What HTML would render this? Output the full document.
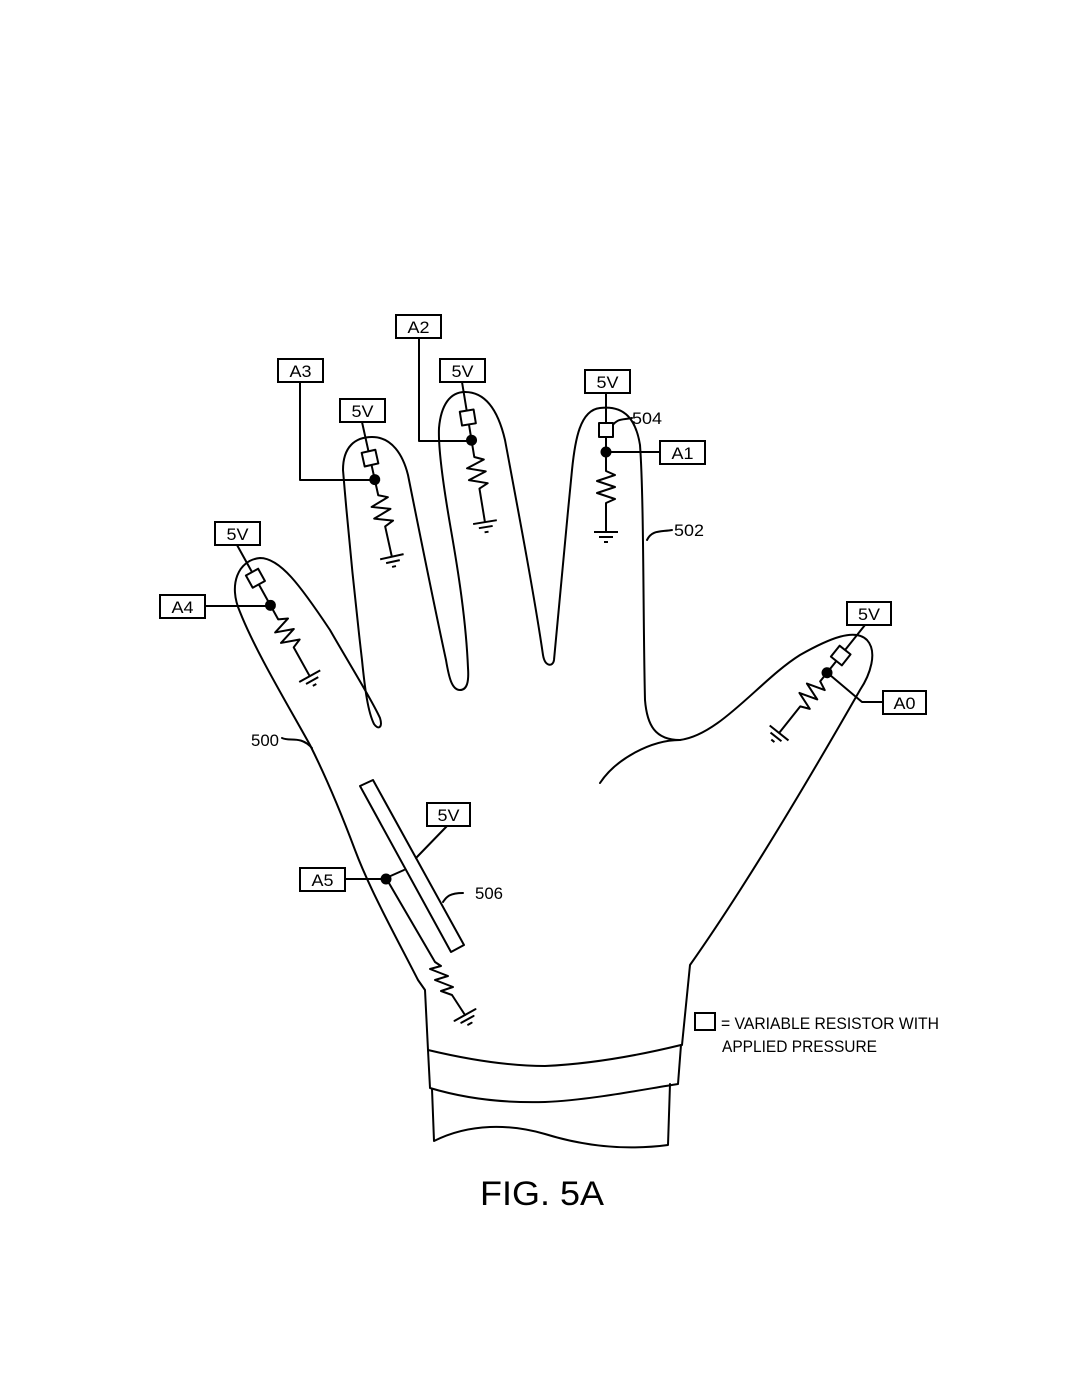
<!DOCTYPE html>
<html><head><meta charset="utf-8"><style>
html,body{margin:0;padding:0;background:#fff}
svg{display:block}
text{font-family:"Liberation Sans",sans-serif;fill:#000}
</style></head><body>
<svg width="1080" height="1398" viewBox="0 0 1080 1398" xmlns="http://www.w3.org/2000/svg">
<g fill="none" stroke="#000" stroke-width="2" stroke-linejoin="round" stroke-linecap="round">
<!-- hand outline -->
<path d="M428,1050 L425,990 L418,980 C395,935 370,890 355,850 C340,810 325,775 310,745 C285,700 255,650 240,612 C228,585 238,560 260,558 C280,558 300,585 330,630 C350,665 372,700 380,718 C383,728 378,730 374,724 C368,712 365,690 362,660 C355,600 348,530 343,470 C343,447 355,437 372,437 C392,437 403,455 408,475 C418,525 433,600 446,660 C449,678 452,690 460,690 C467,690 469,682 468,668 C466,620 458,570 451,530 C444,490 438,450 439,428 C441,405 450,392 465,392 C485,392 498,410 505,440 C520,520 535,600 543,655 C545,667 553,667 554,660 C558,620 565,540 572,470 C575,440 580,410 600,408 C625,405 636,420 640,445 C644,500 643,620 645,700 C647,725 655,740 680,740 C720,735 760,680 800,655 C830,638 855,628 867,640 C878,652 870,675 860,690 C820,760 750,880 690,965 L682,1045"/>
<!-- palm crease -->
<path d="M680,740 C650,740 615,760 600,783"/>
<!-- cuff -->
<path d="M428,1050 C470,1060 510,1066 545,1066 C590,1064 640,1055 681,1045"/>
<path d="M428,1050 L430,1088 C470,1100 510,1103 545,1102 C590,1100 640,1090 678,1084 L681,1045"/>
<path d="M432,1089 L434,1141 C470,1123 510,1124 545,1134 C590,1148 630,1150 668,1145 L670,1084"/>
<!-- forearm strip -->
<path d="M360,786 L373,780 L464,945 L451,952 Z"/>
<path d="M386,878 L404,870"/>
<path d="M447,826 L416,858"/>
<path d="M300,879 L386,879"/>
<path d="M386,878 L435,962 L441,966 L430,969 L448,976 L435,980 L453,987 L441,991 L452,995 L465,1015"/>
<g transform="translate(465,1015) rotate(-29)"><path d="M-12,0 L12,0 M-7,5 L7,5 M-2,10 L2,10"/></g>
<!-- leaders -->
<path d="M312,748 C300,735 290,742 282,738"/>
<path d="M647,540 C652,530 660,532 672,530"/>
<path d="M612,426 C618,418 622,420 632,418"/>
<path d="M463,893 C448,893 446,898 443,902"/>
<path d="M300,382 L300,480 L375,480"/>
<path d="M419,338 L419,441 L470,441"/>
<path d="M605,452 L660,452"/>
<path d="M205,606 L270,606"/>
<path d="M830,675 L862,702 L883,702"/>
</g>
<g fill="none" stroke="#000" stroke-width="2" stroke-linejoin="round">
<!-- pinky -->
<g transform="translate(237,545) rotate(-29)">
<path d="M0,0 L0,31 M0,45 L0,85 L9,89 L-9,95 L9,101 L-9,107 L9,113 L0,117 L0,150 M-12,150 L12,150 M-7,155 L7,155 M-2,160 L2,160"/>
<rect x="-7" y="31" width="14" height="14" fill="#fff"/>
<circle cx="0" cy="69" r="4.5" fill="#000"/>
</g>
<!-- ring -->
<g transform="translate(362,422) rotate(-12.5)">
<path d="M0,0 L0,30 M0,44 L0,75 L9,79 L-9,85 L9,91 L-9,97 L9,103 L0,107 L0,138 M-12,138 L12,138 M-7,143 L7,143 M-2,148 L2,148"/>
<rect x="-7" y="30" width="14" height="14" fill="#fff"/>
<circle cx="0" cy="59" r="4.5" fill="#000"/>
</g>
<!-- middle -->
<g transform="translate(462,382) rotate(-9.3)">
<path d="M0,0 L0,29 M0,43 L0,76 L9,80 L-9,86 L9,92 L-9,98 L9,104 L0,108 L0,142 M-12,142 L12,142 M-7,147 L7,147 M-2,152 L2,152"/>
<rect x="-7" y="29" width="14" height="14" fill="#fff"/>
<circle cx="0" cy="59" r="4.5" fill="#000"/>
</g>
<!-- index -->
<g transform="translate(606,393)">
<path d="M0,0 L0,30 M0,44 L0,78 L9,82 L-9,88 L9,94 L-9,100 L9,106 L0,110 L0,139 M-12,139 L12,139 M-7,144 L7,144 M-2,149 L2,149"/>
<rect x="-7" y="30" width="14" height="14" fill="#fff"/>
<circle cx="0" cy="59" r="4.5" fill="#000"/>
</g>
<!-- thumb -->
<g transform="translate(865,625) rotate(38.5)">
<path d="M0,0 L0,32 M0,46 L0,72 L9,76 L-9,82 L9,88 L-9,94 L9,100 L0,104 L0,138 M-12,138 L12,138 M-7,143 L7,143 M-2,148 L2,148"/>
<rect x="-7" y="32" width="14" height="14" fill="#fff"/>
<circle cx="0" cy="61" r="4.5" fill="#000"/>
</g>
<circle cx="386" cy="879" r="4.5" fill="#000"/>
</g>
<!-- boxes -->
<g fill="#fff" stroke="#000" stroke-width="2">
<rect x="215" y="522" width="45" height="23"/>
<rect x="160" y="595" width="45" height="23"/>
<rect x="278" y="359" width="45" height="23"/>
<rect x="340" y="399" width="45" height="23"/>
<rect x="396" y="315" width="45" height="23"/>
<rect x="440" y="359" width="45" height="23"/>
<rect x="585" y="370" width="45" height="23"/>
<rect x="660" y="441" width="45" height="23"/>
<rect x="847" y="602" width="44" height="23"/>
<rect x="883" y="691" width="43" height="23"/>
<rect x="427" y="803" width="43" height="23"/>
<rect x="300" y="868" width="45" height="23"/>
<rect x="695" y="1013" width="20" height="17"/>
</g>
<g font-size="17" text-anchor="middle">
<text x="237.5" y="540" textLength="22" lengthAdjust="spacingAndGlyphs">5V</text>
<text x="182.5" y="613" textLength="22" lengthAdjust="spacingAndGlyphs">A4</text>
<text x="300.5" y="377" textLength="22" lengthAdjust="spacingAndGlyphs">A3</text>
<text x="362.5" y="417" textLength="22" lengthAdjust="spacingAndGlyphs">5V</text>
<text x="418.5" y="333" textLength="22" lengthAdjust="spacingAndGlyphs">A2</text>
<text x="462.5" y="377" textLength="22" lengthAdjust="spacingAndGlyphs">5V</text>
<text x="607.5" y="388" textLength="22" lengthAdjust="spacingAndGlyphs">5V</text>
<text x="682.5" y="459" textLength="22" lengthAdjust="spacingAndGlyphs">A1</text>
<text x="869" y="620" textLength="22" lengthAdjust="spacingAndGlyphs">5V</text>
<text x="904.5" y="709" textLength="22" lengthAdjust="spacingAndGlyphs">A0</text>
<text x="448.5" y="821" textLength="22" lengthAdjust="spacingAndGlyphs">5V</text>
<text x="322.5" y="886" textLength="22" lengthAdjust="spacingAndGlyphs">A5</text>
</g>
<g font-size="17">
<text x="251" y="746" textLength="28" lengthAdjust="spacingAndGlyphs">500</text>
<text x="674" y="536" textLength="30" lengthAdjust="spacingAndGlyphs">502</text>
<text x="632" y="424" textLength="30" lengthAdjust="spacingAndGlyphs">504</text>
<text x="475" y="899" textLength="28" lengthAdjust="spacingAndGlyphs">506</text>
<text x="721" y="1029" textLength="218" lengthAdjust="spacingAndGlyphs">= VARIABLE RESISTOR WITH</text>
<text x="722" y="1052" textLength="155" lengthAdjust="spacingAndGlyphs">APPLIED PRESSURE</text>
</g>
<text x="542" y="1205" font-size="34" text-anchor="middle" textLength="124" lengthAdjust="spacingAndGlyphs">FIG. 5A</text>
</svg>
</body></html>
